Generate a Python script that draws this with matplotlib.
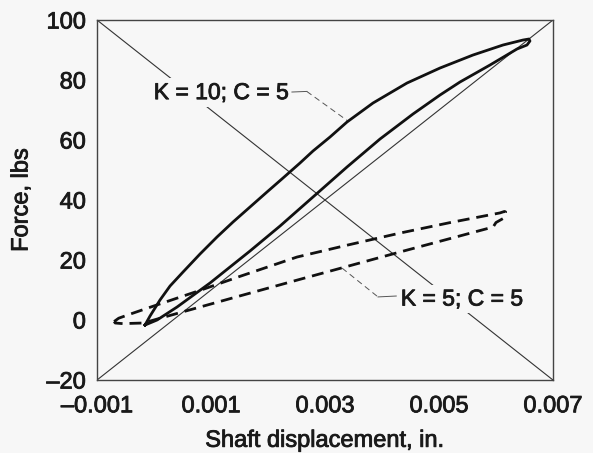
import numpy as np
import matplotlib.pyplot as plt
import matplotlib.patheffects as pe

plt.rcParams['font.family'] = ['Liberation Sans', 'DejaVu Sans']

# displacement in thousandths of an inch, force in lbs
# K = 10; C = 5 loop (upper branch out, lower branch back)
k10_x = [-0.158, -0.070, 0.018, 0.105, 0.281, 0.509, 0.807, 1.105, 1.386, 1.684, 1.982,
         2.263, 2.561, 2.789, 3.088, 3.386, 3.842, 4.439, 5.018, 5.596, 6.123, 6.474,
         6.579, 6.596, 6.544,
         6.368, 5.895, 5.368, 5.018, 4.544, 3.965, 3.386, 2.789, 2.211, 1.684, 0.982,
         0.404, 0.053, -0.158]
k10_y = [-1.67, 1.33, 4.0, 6.67, 11.33, 16.0, 22.0, 27.67, 32.67, 37.67, 42.67,
         47.33, 52.33, 56.33, 61.0, 66.0, 72.33, 79.0, 84.0, 88.33, 91.67, 93.33,
         93.67, 93.0, 91.67,
         90.33, 85.0, 79.33, 75.0, 68.67, 60.33, 51.0, 41.0, 31.33, 23.0, 12.33,
         4.33, 0.0, -1.67]

# K = 5; C = 5 loop
k5_x = [-0.70, -0.62, -0.46, 0.00, 0.81, 1.50, 2.51, 3.40, 4.32, 5.20, 6.07, 6.15,
        6.17, 6.14, 6.00, 5.95, 4.32, 2.51, 1.50, 0.50, -0.19, -0.55, -0.68, -0.70]
k5_y = [-0.5, 0.6, 1.7, 4.7, 9.9, 14.5, 21.0, 25.0, 29.0, 32.5, 35.7, 36.2,
        36.0, 34.0, 32.5, 31.0, 22.7, 13.3, 8.0, 2.7, -1.0, -1.2, -1.0, -0.5]

xticks = [-0.001, 0.001, 0.003, 0.005, 0.007]
xtick_labels = ['\u20130.001', '0.001', '0.003', '0.005', '0.007']
yticks = [-20, 0, 20, 40, 60, 80, 100]
ytick_labels = ['\u201320', '0', '20', '40', '60', '80', '100']

bg = '#f7f7f7'
ink = '#1a1a1a'
bold_fx = [pe.withStroke(linewidth=0.6, foreground=ink)]

fig = plt.figure(figsize=(5.93, 4.53), dpi=100, facecolor=bg)
ax = fig.add_axes([0.1636, 0.1611, 0.7689, 0.7947], facecolor=bg)
ax.set_xlim(-0.001, 0.007)
ax.set_ylim(-20, 100)

# corner-to-corner reference lines
x0, x1 = ax.get_xlim()
y0, y1 = ax.get_ylim()
ax.plot([x0, x1], [y0, y1], color='#333333', lw=0.8, zorder=1)
ax.plot([x0, x1], [y1, y0], color='#333333', lw=0.8, zorder=1)

ax.plot(np.array(k10_x) * 1e-3, k10_y, color='#111111', lw=2.0, zorder=3,
        solid_joinstyle='round')
ax.plot(np.array(k5_x) * 1e-3, k5_y, color='#111111', lw=2.0, zorder=3,
        linestyle=(0, (4.3, 2.5)))

# labels with leader lines
ax.text(2.36e-3, 75.8, 'K = 10; C = 5', ha='right', va='center', fontsize=16.5,
        color=ink, zorder=4, path_effects=bold_fx,
        bbox=dict(facecolor=bg, edgecolor='none', pad=2))
ax.plot([2.42e-3, 2.68e-3], [76.0, 76.2], color='#555555', lw=0.7, zorder=2)
ax.plot([2.68e-3, 3.39e-3], [76.2, 66.5], color='#555555', lw=0.7, zorder=2,
        linestyle=(0, (6, 4)))

ax.text(4.33e-3, 7.0, 'K = 5; C = 5', ha='left', va='center', fontsize=16.5,
        color=ink, zorder=4, path_effects=bold_fx,
        bbox=dict(facecolor=bg, edgecolor='none', pad=2))
ax.plot([3.93e-3, 4.25e-3], [7.7, 8.0], color='#555555', lw=0.7, zorder=2)
ax.plot([3.30e-3, 3.93e-3], [17.3, 7.7], color='#555555', lw=0.7, zorder=2,
        linestyle=(0, (6, 4)))

ax.set_xticks(xticks)
ax.set_xticklabels(xtick_labels)
ax.set_yticks(yticks)
ax.set_yticklabels(ytick_labels)
ax.tick_params(length=0, labelsize=17, colors=ink)
ax.tick_params(axis='x', pad=11)
ax.tick_params(axis='y', pad=8)
for lab in ax.get_xticklabels() + ax.get_yticklabels():
    lab.set_path_effects(bold_fx)
for s in ax.spines.values():
    s.set_color('#444444')
    s.set_linewidth(1.0)

ax.set_xlabel('Shaft displacement, in.', fontsize=17, color=ink, labelpad=9,
              path_effects=bold_fx)
ax.set_ylabel('Force, lbs', fontsize=17, color=ink, labelpad=10,
              path_effects=bold_fx)

fig.savefig('out.png', dpi=100, facecolor=bg)
